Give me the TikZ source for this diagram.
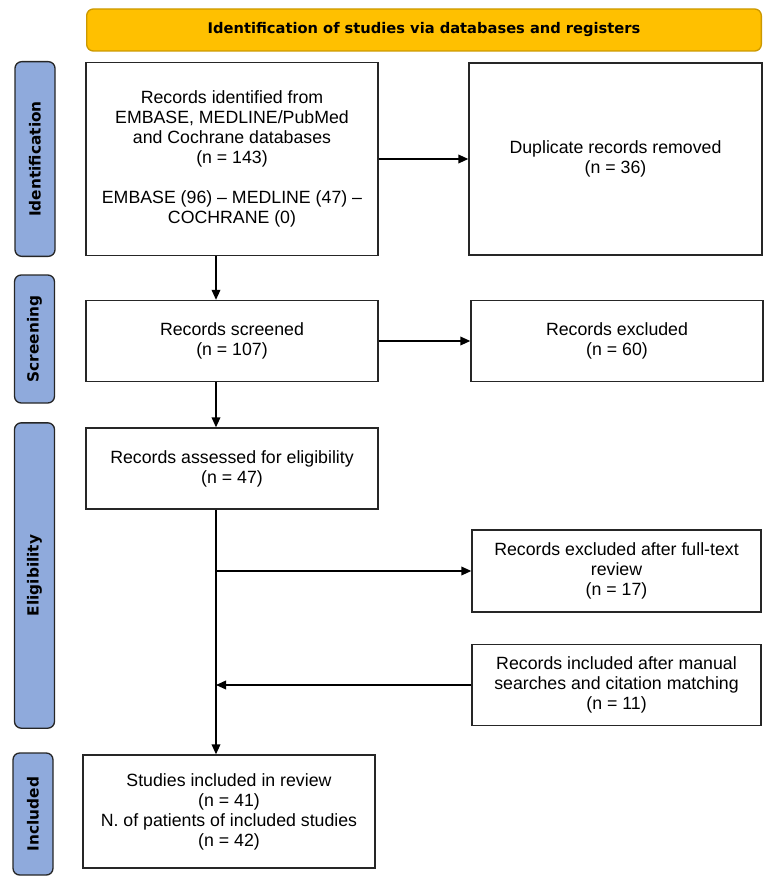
\documentclass[tikz,border=0pt]{standalone}
\usepackage{fontspec}
\setmainfont{Liberation Sans}
\newfontfamily\headfont{DejaVu Sans}
\usepackage{xcolor}
\usepackage{tikz}
\usetikzlibrary{arrows.meta}

\definecolor{headfill}{RGB}{255,192,0}
\definecolor{headline}{RGB}{204,153,0}
\definecolor{sidefill}{RGB}{143,170,220}

\tikzset{
  recbox/.style={draw=black!85, line width=1pt, fill=white, align=center, inner sep=2pt,
    font=\fontsize{13.3}{15}\selectfont},
  sidebox/.style={draw=black!85, line width=1pt, fill=sidefill, rounded corners=5pt,
    rotate=90, minimum height=30pt, font=\headfont\bfseries\fontsize{11.5}{14}\selectfont},
  flow/.style={draw=black, line width=1.1pt, -{Triangle[length=7.5pt,width=6.5pt]}},
}

\begin{document}
\begin{tikzpicture}[x=0.75pt,y=0.75pt,yscale=-1,xscale=1]

\useasboundingbox (0,0) rectangle (773,884);

% header
\node [draw=headline, line width=1pt, fill=headfill, rounded corners=5pt,
  minimum width=506pt, minimum height=31.5pt,
  font=\headfont\bfseries\fontsize{11}{14}\selectfont] (head) at (424,30)
  {Identification of studies via databases and registers};

% phases
\node [sidebox, minimum width=146pt] (phaseid) at (35,159) {Identification};

\node [sidebox, minimum width=96pt] (phasescr) at (34.5,339) {Screening};

\node [sidebox, minimum width=229pt] (phaseelig) at (34.5,575.5) {Eligibility};

\node [sidebox, minimum width=91.5pt] (phaseinc) at (33,814) {Included};

% records
\node [recbox, minimum width=219pt, minimum height=144.75pt] (ident) at (232,159)
  {Records identified from\\EMBASE, MEDLINE/PubMed\\and Cochrane databases\\(n = 143)\\[15pt]
   EMBASE (96) -- MEDLINE (47) --\\COCHRANE (0)};

\node [recbox, minimum width=219.75pt, minimum height=144pt] (dupl) at (615.5,159)
  {Duplicate records removed\\(n = 36)};

\node [recbox, minimum width=219pt, minimum height=60.75pt] (screen) at (232,341)
  {Records screened\\(n = 107)};

\node [recbox, minimum width=219pt, minimum height=60.75pt] (excl) at (617,341)
  {Records excluded\\(n = 60)};

\node [recbox, minimum width=219pt, minimum height=60.75pt] (elig) at (232,468.5)
  {Records assessed for eligibility\\(n = 47)};

\node [recbox, minimum width=216.75pt, minimum height=61.5pt] (fulltext) at (616.5,571)
  {Records excluded after full-text\\review\\(n = 17)};

\node [recbox, minimum width=216.75pt, minimum height=60.75pt] (manual) at (616.5,685)
  {Records included after manual\\searches and citation matching\\(n = 11)};

\node [recbox, minimum width=219pt, minimum height=84.75pt] (incl) at (229,811.5)
  {Studies included in review\\(n = 41)\\N. of patients of included studies\\(n = 42)};

% connectors
\coordinate (spine) at (216,0);

\draw [flow] (ident.east) -- (ident.east -| dupl.west);

\draw [flow] (ident.south -| spine) -- (screen.north -| spine);

\draw [flow] (screen.east) -- (screen.east -| excl.west);

\draw [flow] (screen.south -| spine) -- (elig.north -| spine);

\draw [flow] (elig.south -| spine) -- (incl.north -| spine);

\draw [flow] (fulltext.west -| spine) -- (fulltext.west);

\draw [flow] (manual.west) -- (manual.west -| spine);

\end{tikzpicture}
\end{document}
